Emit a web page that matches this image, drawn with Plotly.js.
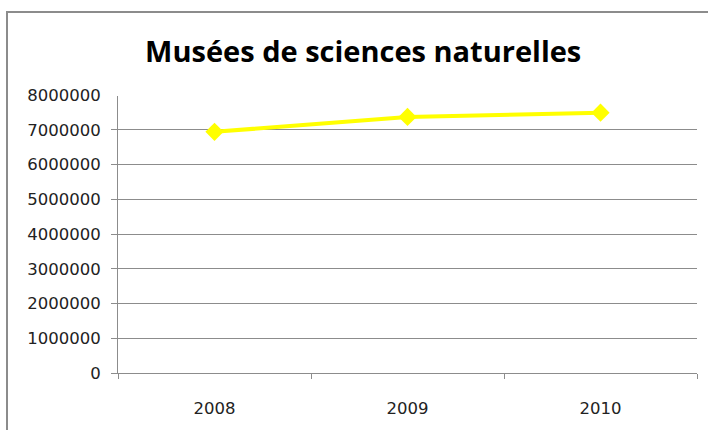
<!DOCTYPE html>
<html>
<head>
<meta charset="utf-8">
<script src="https://cdn.plot.ly/plotly-3.0.1.min.js"></script>
<style>
  body { margin: 0; background: #fff; }
  #frame {
    position: absolute; left: 6px; top: 11px; width: 702px; height: 419px;
    border-left: 2px solid #8c8c8c; border-top: 2px solid #8c8c8c;
  }
  #chart { position: absolute; left: 0; top: 0; width: 708px; height: 430px; }
</style>
</head>
<body>
<div id="frame"></div>
<div id="chart"></div>
<script>
// data
const years = ["2008", "2009", "2010"];
const visitors = [6940000, 7370000, 7490000];
const yTicks = [0, 1000000, 2000000, 3000000, 4000000, 5000000, 6000000, 7000000, 8000000];

const trace = {
    x: years,
    y: visitors,
    type: 'scatter',
    mode: 'lines+markers',
    line: {color: '#ffff00', width: 4},
    marker: {symbol: 'diamond', size: 14, color: '#ffff00'},
    hoverinfo: 'x+y'
};

const axisFont = {family: 'DejaVu Sans, sans-serif', size: 16.5, color: '#222'};

const layout = {
    width: 708,
    height: 430,
    paper_bgcolor: 'rgba(0,0,0,0)',
    plot_bgcolor: 'rgba(0,0,0,0)',
    showlegend: false,
    margin: {l: 118, r: 11, t: 95, b: 57},
    title: {
        text: 'Musées de sciences naturelles',
        font: {family: 'Open Sans, sans-serif', size: 29, color: '#000', weight: 'bold'},
        x: 0.513, xanchor: 'center',
        y: 0.88, yanchor: 'middle'
    },
    xaxis: {
        type: 'category',
        range: [-0.5, 2.5],
        tickson: 'boundaries',
        ticks: 'outside',
        ticklen: 5,
        tickcolor: '#8c8c8c',
        showline: true,
        linecolor: '#8c8c8c',
        linewidth: 1,
        showgrid: false,
        tickfont: axisFont,
        ticklabelstandoff: 20
    },
    yaxis: {
        range: [0, 8000000],
        tickvals: yTicks,
        ticktext: yTicks.map(v => String(v)),
        ticks: 'outside',
        ticklen: 6,
        tickcolor: '#8c8c8c',
        showline: true,
        linecolor: '#8c8c8c',
        linewidth: 1,
        gridcolor: '#8c8c8c',
        gridwidth: 1,
        zeroline: false,
        tickfont: axisFont,
        ticklabelstandoff: 7
    },
    // the top gridline is not drawn in the original
    shapes: [{
        type: 'line', xref: 'paper', yref: 'y', layer: 'above',
        x0: -0.015, x1: 1.005, y0: 8000000, y1: 8000000,
        line: {color: '#ffffff', width: 2}
    }]
};

Plotly.newPlot('chart', [trace], layout, {displayModeBar: false, staticPlot: true});
</script>
</body>
</html>
